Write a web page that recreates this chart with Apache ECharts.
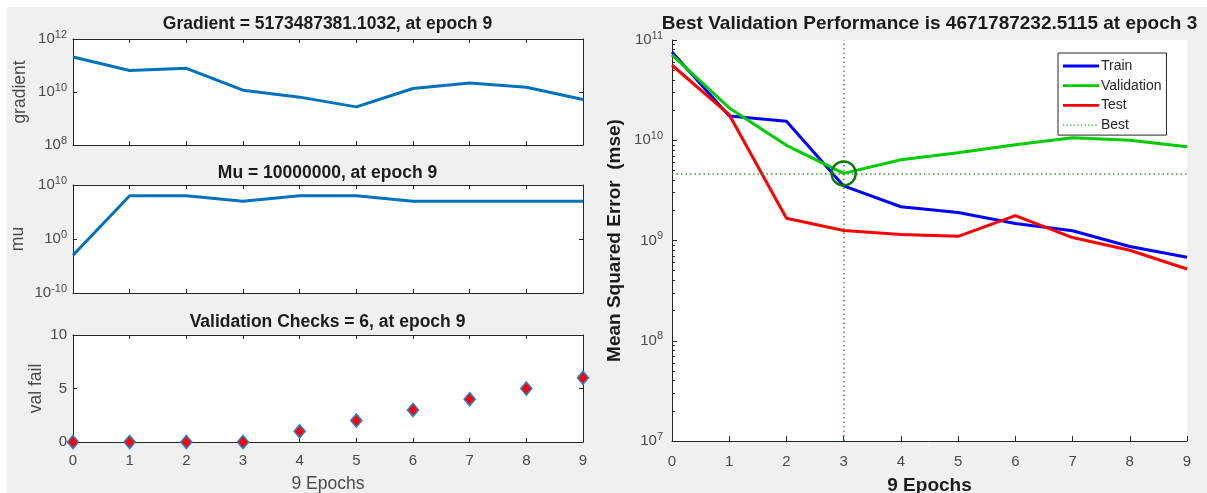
<!DOCTYPE html>
<html><head><meta charset="utf-8">
<script src="https://cdn.jsdelivr.net/npm/echarts@6/dist/echarts.min.js"></script>
<style>
html,body{margin:0;padding:0;background:#fff;width:1207px;height:493px;overflow:hidden}
#c{position:absolute;left:7px;top:7px;width:1200px;height:486px;}
</style></head>
<body><div id="c"></div>
<script>
// ---------- data ----------
const epochs = [0, 1, 2, 3, 4, 5, 6, 7, 8, 9];
const gradientValues = [2.1e11, 6.5e10, 7.8e10, 1.17e10, 6.4e9, 2.75e9, 1.35e10, 2.2e10, 1.5e10, 5173487381.1032];
const muValues = [1e-3, 1e8, 1e8, 1e7, 1e8, 1e8, 1e7, 1e7, 1e7, 1e7];
const valFailValues = [0, 0, 0, 0, 1, 2, 3, 4, 5, 6];
const trainPerf = [7.6e10, 1.75e10, 1.55e10, 3.5e9, 2.17e9, 1.9e9, 1.48e9, 1.25e9, 8.7e8, 6.8e8];
const validationPerf = [7.1e10, 2.1e10, 8.9e9, 4671787232.5115, 6.4e9, 7.5e9, 9.0e9, 1.06e10, 1.0e10, 8.6e9];
const testPerf = [5.6e10, 1.8e10, 1.67e9, 1.26e9, 1.15e9, 1.1e9, 1.77e9, 1.07e9, 8.0e8, 5.2e8];
const bestEpoch = 3;
const bestPerf = 4671787232.5115;

// tick labels
const epochTicks = [0, 1, 2, 3, 4, 5, 6, 7, 8, 9];
const gradTicks = [1e8, 1e10, 1e12];
const muTicks = [1e-10, 1, 1e10];
const valFailTicks = [0, 5, 10];
const perfTicks = [1e7, 1e8, 1e9, 1e10, 1e11];

// titles / labels
const titles = [
  'Gradient = 5173487381.1032, at epoch 9',
  'Mu = 10000000, at epoch 9',
  'Validation Checks = 6, at epoch 9',
  'Best Validation Performance is 4671787232.5115 at epoch 3'
];
const legendNames = ['Train', 'Validation', 'Test', 'Best'];

// minor ticks of the performance axis (2..9 x each decade)
const perfMinorTicks = [];
for (let i = 0; i < perfTicks.length - 1; i++) {
  for (let k = 2; k <= 9; k++) perfMinorTicks.push(k * perfTicks[i]);
}

// ---------- styling ----------
const FONT = 'Liberation Sans, Arial, sans-serif';
const AX = '#262626';
const LBL = '#4a4a4a';
const DARK = '#1c1c1c';
const MAT_BLUE = '#0072BD';

// legend icons: plain line sample, and dotted sample (tiny corner marks keep the 36x14 box unscaled)
const ICON_FRAME = 'M0,0h0.01v0.01h-0.01z M35.99,13.99h0.01v0.01h-0.01z ';
const solidIcon = 'path://' + ICON_FRAME + 'M0,5.6h36v2.8h-36z';
let dotted = ICON_FRAME;
for (let x = 0; x < 36; x += 3.6) dotted += 'M' + x.toFixed(2) + ',6.4h1.3v1.2h-1.3z ';
const dottedIcon = 'path://' + dotted;

function pow10(v) {
  const e = Math.round(Math.log10(v));
  return '{b|10}{s|' + e + '}';
}
const powRich = {
  b: { fontSize: 15, color: LBL, fontFamily: FONT },
  s: { fontSize: 11, color: LBL, fontFamily: FONT, padding: [0, 0, 9, 0] }
};

const leftGrids = [
  { left: 66, top: 32, width: 510, height: 106 },
  { left: 66, top: 178, width: 510, height: 108 },
  { left: 66, top: 328, width: 510, height: 107 }
];
const rightGrid = { left: 665, top: 33, width: 515, height: 401 };

const grid = leftGrids.concat([rightGrid]).map(g => Object.assign({
  show: true, backgroundColor: '#fff', borderWidth: 0, containLabel: false, outerBoundsMode: 'none'
}, g));

function xAx(gi, pos, showLabels, extra) {
  return Object.assign({
    type: 'value', gridIndex: gi, position: pos, min: 0, max: 9, interval: 1,
    axisLine: { show: true, onZero: false, lineStyle: { color: AX, width: 1 } },
    axisTick: { show: true, inside: true, length: 4, lineStyle: { color: AX } },
    axisLabel: { show: showLabels, color: LBL, fontSize: 15, fontFamily: FONT, margin: 11 },
    splitLine: { show: false }
  }, extra || {});
}
function yAx(gi, pos, type, min, max, ticks, showLabels, extra) {
  const o = {
    type: type, gridIndex: gi, position: pos, min: min, max: max,
    axisLine: { show: true, onZero: false, lineStyle: { color: AX, width: 1 } },
    axisTick: { show: true, inside: true, length: 4, lineStyle: { color: AX }, customValues: ticks },
    axisLabel: { show: showLabels, color: LBL, fontSize: 15, fontFamily: FONT, margin: 6, customValues: ticks },
    splitLine: { show: false }
  };
  if (type === 'log') {
    o.logBase = 10;
    o.axisLabel.formatter = pow10;
    o.axisLabel.rich = powRich;
  }
  return Object.assign(o, extra || {});
}
const nameStyle = { color: LBL, fontSize: 17.5, fontFamily: FONT };

const xAxis = [
  xAx(0, 'bottom', false), xAx(0, 'top', false),
  xAx(1, 'bottom', false), xAx(1, 'top', false),
  xAx(2, 'bottom', true, { name: '9 Epochs', nameLocation: 'middle', nameGap: 33, nameTextStyle: nameStyle }),
  xAx(2, 'top', false),
  xAx(3, 'bottom', true, {
    name: '9 Epochs', nameLocation: 'middle', nameGap: 35,
    nameTextStyle: { color: DARK, fontSize: 19, fontWeight: 'bold', fontFamily: FONT },
    axisTick: { show: true, inside: true, length: 5, lineStyle: { color: AX } },
    axisLabel: { show: true, color: LBL, fontSize: 15, fontFamily: FONT, margin: 13 }
  })
];
const yAxis = [
  yAx(0, 'left', 'log', 1e8, 1e12, gradTicks, true, { name: 'gradient', nameLocation: 'middle', nameGap: 44, nameTextStyle: nameStyle }),
  yAx(0, 'right', 'log', 1e8, 1e12, gradTicks, false),
  yAx(1, 'left', 'log', 1e-10, 1e10, muTicks, true, { name: 'mu', nameLocation: 'middle', nameGap: 46, nameTextStyle: nameStyle }),
  yAx(1, 'right', 'log', 1e-10, 1e10, muTicks, false),
  yAx(2, 'left', 'value', 0, 10, valFailTicks, true, { interval: 5, name: 'val fail', nameLocation: 'middle', nameGap: 28, nameTextStyle: nameStyle }),
  yAx(2, 'right', 'value', 0, 10, valFailTicks, false, { interval: 5 }),
  yAx(3, 'left', 'log', 1e7, 1e11, perfTicks, true, {
    name: 'Mean Squared Error  (mse)', nameLocation: 'middle', nameGap: 48,
    nameTextStyle: { color: DARK, fontSize: 19, fontWeight: 'bold', fontFamily: FONT }
  }),
  // minor ticks of the performance axis
  yAx(3, 'left', 'log', 1e7, 1e11, perfMinorTicks, false, {
    axisLine: { show: false },
    axisTick: { show: true, inside: true, length: 3, lineStyle: { color: AX }, customValues: perfMinorTicks }
  })
];
yAxis[6].axisTick.length = 5;
yAxis[6].axisLabel.margin = 9;

function pairs(vals) { return epochs.map((e, i) => [e, vals[i]]); }

const series = [
  { type: 'line', xAxisIndex: 0, yAxisIndex: 0, data: pairs(gradientValues), symbol: 'none',
    lineStyle: { color: MAT_BLUE, width: 3 }, silent: true },
  { type: 'line', xAxisIndex: 2, yAxisIndex: 2, data: pairs(muValues), symbol: 'none',
    lineStyle: { color: MAT_BLUE, width: 3 }, silent: true },
  { type: 'scatter', xAxisIndex: 4, yAxisIndex: 4, data: pairs(valFailValues), symbol: 'diamond',
    symbolSize: [11, 13], itemStyle: { color: '#ff0000', borderColor: '#2a7fcf', borderWidth: 1.6, opacity: 1 },
    silent: true, clip: false, z: 5 },
  { name: 'Train', type: 'line', xAxisIndex: 6, yAxisIndex: 6, data: pairs(trainPerf), symbol: 'none',
    lineStyle: { color: '#0000ff', width: 3 }, itemStyle: { color: '#0000ff' }, silent: true },
  { name: 'Validation', type: 'line', xAxisIndex: 6, yAxisIndex: 6, data: pairs(validationPerf), symbol: 'none',
    lineStyle: { color: '#00cc00', width: 3 }, itemStyle: { color: '#00cc00' }, silent: true },
  { name: 'Test', type: 'line', xAxisIndex: 6, yAxisIndex: 6, data: pairs(testPerf), symbol: 'none',
    lineStyle: { color: '#ff0000', width: 3 }, itemStyle: { color: '#ff0000' }, silent: true },
  { name: 'Best', type: 'line', xAxisIndex: 6, yAxisIndex: 6, data: [], symbol: 'none',
    lineStyle: { color: '#2ea02e', width: 1, type: [1.5, 3] }, itemStyle: { color: '#2ea02e' }, silent: true,
    markLine: { silent: true, symbol: ['none', 'none'], label: { show: false },
      lineStyle: { color: '#2ea02e', width: 1.5, type: [1.5, 3] },
      data: [{ xAxis: bestEpoch }, { yAxis: bestPerf }] } },
  { type: 'scatter', xAxisIndex: 6, yAxisIndex: 6, data: [[bestEpoch, bestPerf]], symbol: 'circle',
    symbolSize: 24, itemStyle: { color: 'rgba(0,0,0,0)', borderColor: '#0a7a0a', borderWidth: 2.5, opacity: 1 },
    silent: true, z: 6 }
];

const graphic = [
  { type: 'text', x: 320.5, y: 17, style: { text: titles[0], font: 'bold 17.5px ' + FONT, fill: DARK, textAlign: 'center', textVerticalAlign: 'middle' } },
  { type: 'text', x: 320.5, y: 166, style: { text: titles[1], font: 'bold 17.5px ' + FONT, fill: DARK, textAlign: 'center', textVerticalAlign: 'middle' } },
  { type: 'text', x: 320.5, y: 315.5, style: { text: titles[2], font: 'bold 17.5px ' + FONT, fill: DARK, textAlign: 'center', textVerticalAlign: 'middle' } },
  { type: 'text', x: 922.5, y: 16.5, style: { text: titles[3], font: 'bold 19px ' + FONT, fill: DARK, textAlign: 'center', textVerticalAlign: 'middle' } }
];

const chart = echarts.init(document.getElementById('c'), null, { renderer: 'canvas' });
chart.setOption({
  animation: false,
  backgroundColor: '#f0f0f0',
  grid: grid,
  xAxis: xAxis,
  yAxis: yAxis,
  series: series,
  graphic: graphic,
  legend: {
    data: [
      { name: legendNames[0], icon: solidIcon, itemStyle: { color: '#0000ff' } },
      { name: legendNames[1], icon: solidIcon, itemStyle: { color: '#00cc00' } },
      { name: legendNames[2], icon: solidIcon, itemStyle: { color: '#ff0000' } },
      { name: legendNames[3], icon: dottedIcon, itemStyle: { color: '#2ea02e' } }
    ],
    orient: 'vertical', left: 1051, top: 46,
    padding: [6, 5, 3, 5], itemWidth: 36, itemHeight: 14, itemGap: 5.7,
    backgroundColor: '#fff', borderColor: AX, borderWidth: 1, borderRadius: 0,
    selectedMode: false,
    textStyle: { fontSize: 14, color: AX, fontFamily: FONT, padding: [0, 0, 0, -3] }
  }
});
</script>
</body></html>
